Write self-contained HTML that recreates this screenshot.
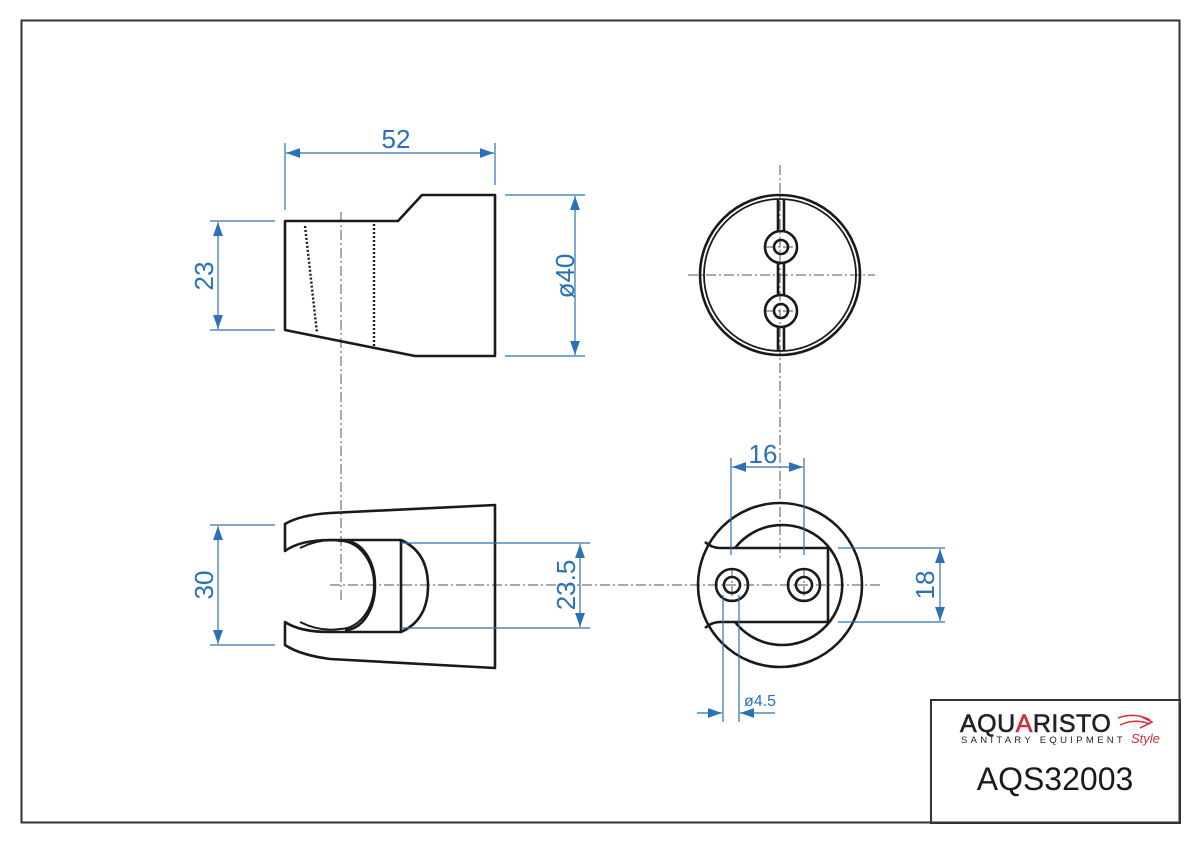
<!DOCTYPE html>
<html><head><style>
html,body{margin:0;padding:0;background:#fff;}
svg{display:block;}
text{font-family:"Liberation Sans",Arial,sans-serif;}
</style></head><body>
<svg width="1200" height="850" viewBox="0 0 1200 850" xmlns="http://www.w3.org/2000/svg">
<defs>
<marker id="a" viewBox="0 0 10 10" refX="10" refY="5" markerWidth="14" markerHeight="14" markerUnits="userSpaceOnUse" orient="auto-start-reverse"><path d="M0,1.5 L10,5 L0,8.5 z" fill="#2a72b5"/></marker>
</defs>
<rect x="21.5" y="20.5" width="1158" height="802" fill="none" stroke="#333" stroke-width="2"/>
<rect x="931" y="700" width="249" height="123" fill="none" stroke="#333" stroke-width="2"/>

<g stroke="#555" stroke-width="1" stroke-dasharray="10,3,2,3" fill="none">
<line x1="341" y1="212" x2="341" y2="600"/>
<line x1="330" y1="585" x2="880" y2="585"/>
<line x1="780" y1="165" x2="780" y2="560"/>
<line x1="688" y1="275" x2="875" y2="275"/>
<line x1="765" y1="247" x2="797" y2="247"/>
<line x1="765" y1="311" x2="797" y2="311"/>
<line x1="732" y1="568" x2="732" y2="602"/>
<line x1="804" y1="568" x2="804" y2="602"/>
</g>

<g stroke="#1a1a1a" stroke-width="2.6" fill="none" stroke-linejoin="round">
<path d="M285,221 L398,221 L422,195 L495,195 L495,356 L415,356 L285,330 Z"/>
<path d="M285,524 Q300,515 330,513 L495,505 L495,668 L330,659 Q300,655 285,645 L285,622 Q300,632 330,632 L401,632 L401,540 L330,540 Q300,540 285,551 Z"/>
<path d="M345,541 A30,44.5 0 0 1 345,630"/>
<path d="M300,548 Q320,538 340,541 A34,44 0 0 1 340,629 Q320,632 300,622" stroke-width="2"/>
<path d="M401,540 Q428,552 428,586 Q428,620 401,632"/>
<circle cx="780" cy="275" r="80"/>
<circle cx="780" cy="275" r="76" stroke-width="1.8"/>
<line x1="778" y1="200" x2="778" y2="231"/><line x1="784" y1="200" x2="784" y2="231"/>
<line x1="778" y1="263" x2="778" y2="295"/><line x1="784" y1="263" x2="784" y2="295"/>
<line x1="778" y1="327" x2="778" y2="351"/><line x1="784" y1="327" x2="784" y2="351"/>
<circle cx="781" cy="247" r="16"/><circle cx="781" cy="247" r="7"/>
<circle cx="781" cy="311" r="16"/><circle cx="781" cy="311" r="7"/>
<circle cx="780" cy="585" r="82"/>
<path d="M735,548 A60,60 0 1 1 735,622"/>
<path d="M705,542 Q712,548 720,548 L828,548 L828,622 L720,622 Q712,622 705,628"/>
<circle cx="732" cy="585" r="16"/><circle cx="732" cy="585" r="8"/>
<circle cx="804" cy="585" r="16"/><circle cx="804" cy="585" r="8"/>
</g>
<g stroke="#1a1a1a" stroke-width="2.4" stroke-dasharray="2,2" fill="none">
<line x1="305" y1="226" x2="317" y2="333"/>
<line x1="374" y1="224" x2="374" y2="347"/>
</g>

<g stroke="#2a72b5" stroke-width="1.2" fill="none">
<line x1="285" y1="143" x2="285" y2="210"/><line x1="495" y1="143" x2="495" y2="185"/>
<line x1="286" y1="153" x2="494" y2="153" marker-start="url(#a)" marker-end="url(#a)"/>
<line x1="210" y1="221" x2="275" y2="221"/><line x1="210" y1="330" x2="275" y2="330"/>
<line x1="218" y1="222" x2="218" y2="329" marker-start="url(#a)" marker-end="url(#a)"/>
<line x1="505" y1="195" x2="585" y2="195"/><line x1="505" y1="356" x2="585" y2="356"/>
<line x1="575" y1="196" x2="575" y2="355" marker-start="url(#a)" marker-end="url(#a)"/>
<line x1="210" y1="525" x2="275" y2="525"/><line x1="210" y1="645" x2="275" y2="645"/>
<line x1="218" y1="526" x2="218" y2="644" marker-start="url(#a)" marker-end="url(#a)"/>
<line x1="401" y1="543" x2="590" y2="543"/><line x1="401" y1="628" x2="590" y2="628"/>
<line x1="580" y1="544" x2="580" y2="627" marker-start="url(#a)" marker-end="url(#a)"/>
<line x1="731" y1="458" x2="731" y2="555"/><line x1="804" y1="458" x2="804" y2="555"/>
<line x1="732" y1="467" x2="803" y2="467" marker-start="url(#a)" marker-end="url(#a)"/>
<line x1="838" y1="548" x2="945" y2="548"/><line x1="838" y1="622" x2="945" y2="622"/>
<line x1="940" y1="549" x2="940" y2="621" marker-start="url(#a)" marker-end="url(#a)"/>
<line x1="723" y1="595" x2="723" y2="722"/><line x1="739" y1="595" x2="739" y2="722"/>
<line x1="697" y1="713" x2="722" y2="713" marker-end="url(#a)"/>
<line x1="775" y1="713" x2="740" y2="713" marker-end="url(#a)"/>
</g>
<g fill="#2a72b5" font-size="26">
<text x="396" y="148" text-anchor="middle">52</text>
<text x="763" y="463" text-anchor="middle">16</text>
<text transform="translate(213,276) rotate(-90)" text-anchor="middle">23</text>
<text transform="translate(574,276) rotate(-90)" text-anchor="middle">ø40</text>
<text transform="translate(213,585) rotate(-90)" text-anchor="middle">30</text>
<text transform="translate(575,585) rotate(-90)" text-anchor="middle">23.5</text>
<text transform="translate(934,585) rotate(-90)" text-anchor="middle">18</text>
<text x="744" y="706" font-size="16">ø4.5</text>
</g>

<text x="960" y="732" font-size="25" fill="#222" stroke="#222" stroke-width="0.6" letter-spacing="0.5">AQU<tspan fill="#d52b3a" stroke="#d52b3a">A</tspan>RISTO</text>
<text x="961" y="743" font-size="9.5" fill="#222" letter-spacing="3.3">SANITARY EQUIPMENT</text>
<path d="M1118,718 Q1135,712 1150,720 M1120,725 Q1135,718 1150,724 M1140,716 L1152,722 L1140,728" stroke="#d52b3a" stroke-width="1.5" fill="none"/>
<text x="1131" y="743" font-size="13" font-style="italic" fill="#d52b3a" font-family="Liberation Serif,serif">Style</text>
<text x="1055" y="790" font-size="32" fill="#1a1a1a" text-anchor="middle">AQS32003</text>
</svg>
</body></html>
